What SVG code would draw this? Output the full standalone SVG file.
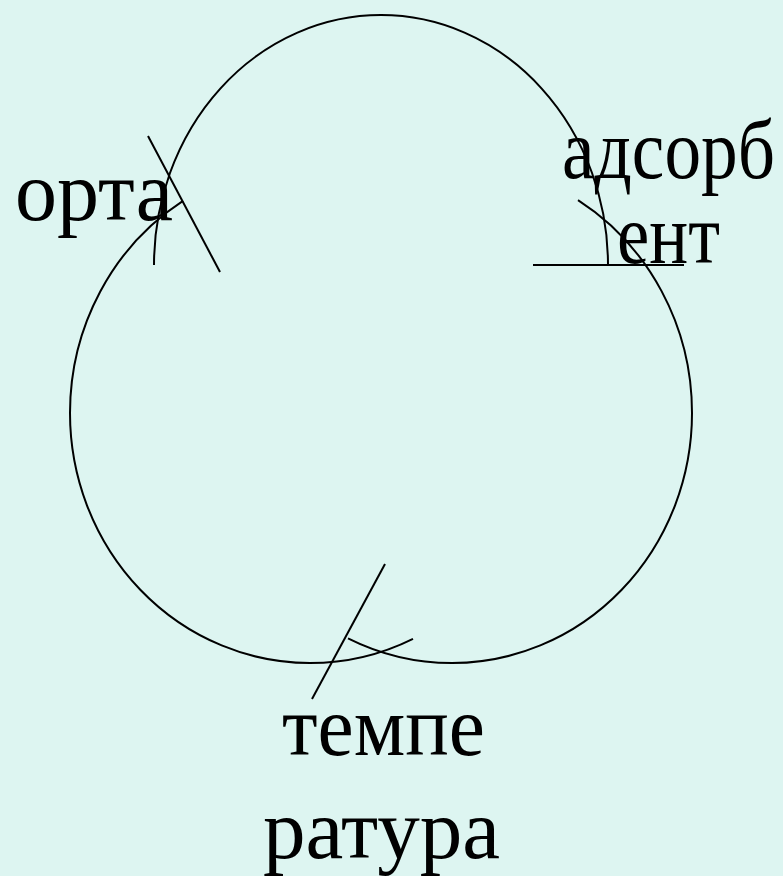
<svg xmlns="http://www.w3.org/2000/svg" width="783" height="876" viewBox="0 0 783 876">
<style>
.ln{fill:none;stroke:#000;stroke-width:2}
.t{font-family:"Liberation Serif","Times New Roman",serif;font-size:85px;fill:#000}
</style>
<rect width="783" height="876" fill="#DDF5F1"/>
<g id="connectors">
<path class="ln" d="M154,265 A227,250 0 0,1 608,265"/>
<path class="ln" d="M183,200.9 A240,250 0 0,0 70,413 A240,250 0 0,0 310,663 A240,250 0 0,0 413,638.8"/>
<path class="ln" d="M578,200.2 A240,250 0 0,1 692,413 A240,250 0 0,1 452,663 A240,250 0 0,1 348,638.3"/>
<line class="ln" x1="148" y1="136" x2="220" y2="272"/>
<line class="ln" x1="533" y1="265" x2="684" y2="265"/>
<line class="ln" x1="385" y1="564" x2="312" y2="699"/>
</g>
<g id="orta"><text class="t" x="15" y="220" textLength="158" lengthAdjust="spacingAndGlyphs">орта</text></g>
<g id="adsorbent"><text class="t" x="562" y="178" textLength="213" lengthAdjust="spacingAndGlyphs">адсорб</text><text class="t" x="617" y="263" textLength="103" lengthAdjust="spacingAndGlyphs">ент</text></g>
<g id="temperatura"><text class="t" x="282" y="755" textLength="203" lengthAdjust="spacingAndGlyphs">темпе</text><text class="t" x="263" y="858" textLength="237" lengthAdjust="spacingAndGlyphs">ратура</text></g>
</svg>
